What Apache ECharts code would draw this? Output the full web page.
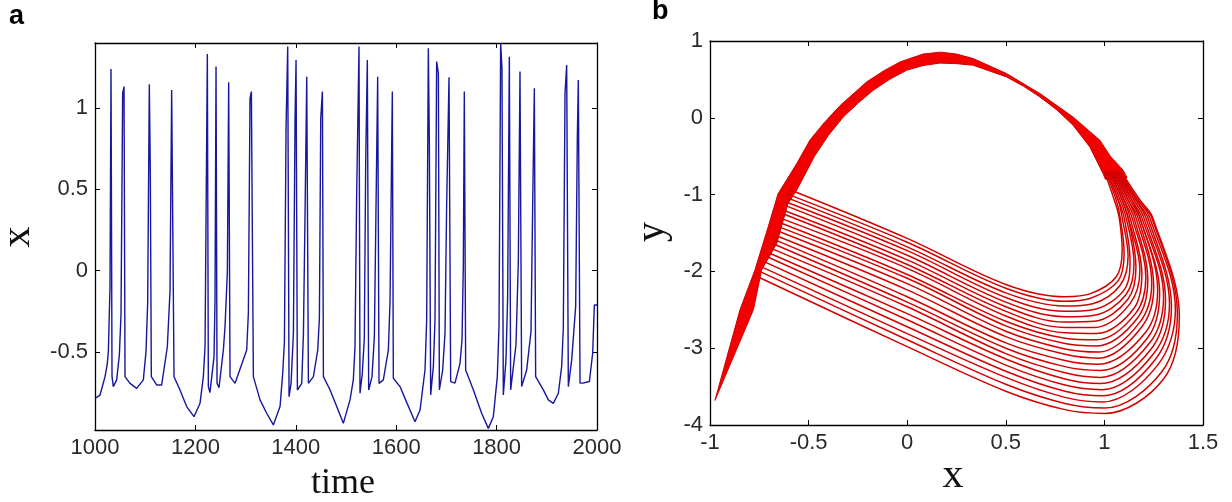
<!DOCTYPE html>
<html>
<head>
<meta charset="utf-8">
<script src="https://cdn.jsdelivr.net/npm/echarts@6/dist/echarts.min.js"></script>
<style>
  html, body { margin: 0; padding: 0; background: #fff; }
  #main { width: 1232px; height: 502px; }
</style>
</head>
<body>
<div id="main"></div>
<script>
// panel a: membrane potential x over time (one row per burst)
var tsTime = [
  1000, 1010, 1020, 1024.6, 1026.6, 1029.9, 1031.9, 1033.9, 1036.5, 1043.2, 1048.5, 1051.8, 1055.1, 1057.8, 1059.8,
  1069.7, 1083, 1096.3, 1101.6, 1104.9, 1108.2, 1110.2, 1112.2, 1122.8, 1132.8, 1144.1, 1149.4, 1152.7, 1157.4,
  1169.3, 1182.6, 1197.2, 1209.2, 1215.8, 1219.2, 1221.2, 1223.8, 1225.8, 1229, 1237.1, 1239.1, 1241.1, 1243.1,
  1247, 1255.7, 1259, 1263.7, 1266.3, 1269, 1279, 1302.2, 1305.5, 1308.8, 1311.5, 1315.5,
  1328.7, 1342, 1355.3, 1368.6, 1373.9, 1377.3, 1380.6, 1383.9, 1386.6, 1390.6, 1395.2, 1398.5, 1400.5, 1403.2,
  1411.8, 1415.2, 1418.5, 1421.8, 1425.1, 1435.1, 1443.7, 1447, 1449.7, 1453, 1455,
  1468.3, 1481.5, 1494.7, 1508, 1514.6, 1517.9, 1521.2, 1525.9, 1527.9, 1532.5, 1536.5, 1539.2, 1542.5, 1545.2,
  1551.8, 1556.5, 1559.8, 1563.1, 1565.8, 1574.4, 1584.4, 1587.7, 1591, 1592.3, 1594.3,
  1607.6, 1620.9, 1637.5, 1647.5, 1657.4, 1660.7, 1664, 1666, 1668.7, 1674, 1677.3, 1680.6, 1684, 1686,
  1692.6, 1697.2, 1700.5, 1705.2, 1708.5, 1717.1, 1727.1, 1731.1, 1733.7, 1735.7, 1738.4,
  1753.6, 1770.2, 1783.5, 1793.5, 1801.4, 1804.8, 1808.1, 1810.7, 1813.4, 1818.7, 1822, 1825.4, 1828,
  1838.6, 1843.3, 1846.6, 1849.9, 1859.9, 1868.5, 1871.8, 1875.2, 1877.8,
  1893.1, 1903.1, 1913, 1923, 1929.6, 1932.9, 1936.3, 1939.6, 1942.9, 1949.6, 1957.5, 1960.8, 1962.8, 1966.2,
  1971.5, 1984.8, 1991.4, 1994.7, 2000
];
var tsX = [
  -0.785, -0.765, -0.652, -0.57, -0.498, -0.098, 1.24, -0.652, -0.713, -0.672, -0.519, -0.272, 1.091, 1.132, -0.652,
  -0.693, -0.724, -0.672, -0.498, -0.2, 1.146, 0.599, -0.652, -0.703, -0.703, -0.468, -0.129, 1.111, -0.652,
  -0.734, -0.836, -0.898, -0.816, -0.652, -0.468, 0.322, 1.333, -0.713, -0.75, -0.529, -0.18, 1.255, -0.693,
  -0.72, -0.488, -0.345, -0.006, 1.158, -0.652, -0.693, -0.488, -0.262, 1.06, 1.101, -0.652,
  -0.795, -0.877, -0.949, -0.836, -0.632, -0.437, 0.886, 1.378, -0.775, -0.693, -0.386, 0.927, 1.296, -0.734,
  -0.693, -0.386, 0.373, 1.193, -0.693, -0.652, -0.488, -0.293, 0.938, 1.101, -0.652,
  -0.734, -0.836, -0.939, -0.795, -0.672, -0.468, 0.455, 1.378, -0.754, -0.632, -0.416, 0.66, 1.296, -0.734,
  -0.652, -0.406, 0.394, 1.193, -0.693, -0.672, -0.488, -0.19, 0.752, 1.101, -0.662,
  -0.713, -0.81, -0.929, -0.857, -0.611, -0.303, 1.368, 0.794, -0.764, -0.59, -0.303, 1.286, 1.213, -0.733,
  -0.611, -0.385, 0.404, 1.189, -0.682, -0.692, -0.57, -0.426, 0.025, 1.101, -0.611,
  -0.733, -0.877, -0.97, -0.898, -0.652, -0.344, 1.398, 1.245, -0.764, -0.549, -0.16, 1.316, -0.733,
  -0.457, 0.056, 1.224, -0.713, -0.611, -0.375, 0.384, 1.122, -0.652,
  -0.733, -0.795, -0.816, -0.754, -0.59, -0.354, 1.09, 1.265, -0.713, -0.549, -0.22, 0.814, 1.173, -0.692,
  -0.692, -0.682, -0.508, -0.211, -0.211
];
var xTicks = [-0.5, 0, 0.5, 1];

// panel b: the 21 nested loops of the lower fan (top loop first)
var stationX = [0, 0.5, 0.8];
var upperY = -1.3;
var endY = -1.07;
var topY = -0.7;
var loopStartX = [-0.60, -0.61, -0.61, -0.62, -0.62, -0.63, -0.63, -0.64, -0.65, -0.65, -0.66, -0.67, -0.67, -0.68, -0.69, -0.70, -0.71, -0.72, -0.73, -0.74, -0.75];
var loopStartY = [-0.93, -0.99, -1.04, -1.09, -1.14, -1.20, -1.25, -1.31, -1.36, -1.42, -1.47, -1.53, -1.59, -1.64, -1.70, -1.76, -1.81, -1.88, -1.95, -2.01, -2.08];
var loopY0 = [-1.57, -1.62, -1.68, -1.73, -1.79, -1.85, -1.91, -1.96, -2.04, -2.09, -2.16, -2.24, -2.33, -2.40, -2.46, -2.55, -2.63, -2.72, -2.81, -2.89, -2.98];
var loopY05 = [-2.17, -2.22, -2.28, -2.34, -2.40, -2.46, -2.52, -2.58, -2.65, -2.71, -2.78, -2.85, -2.93, -3.00, -3.07, -3.14, -3.22, -3.30, -3.38, -3.47, -3.56];
var loopY08 = [-2.33, -2.39, -2.45, -2.52, -2.59, -2.66, -2.73, -2.80, -2.87, -2.94, -3.01, -3.08, -3.16, -3.24, -3.32, -3.40, -3.48, -3.56, -3.64, -3.72, -3.80];
var loopBottomX = [0.93, 0.93, 0.94, 0.94, 0.95, 0.95, 0.95, 0.96, 0.96, 0.96, 0.97, 0.97, 0.97, 0.98, 0.98, 0.98, 0.99, 0.99, 0.99, 1.00, 1.00];
var loopBottomY = [-2.29, -2.35, -2.42, -2.50, -2.57, -2.65, -2.73, -2.81, -2.89, -2.97, -3.05, -3.13, -3.21, -3.29, -3.38, -3.46, -3.54, -3.62, -3.70, -3.78, -3.85];
var loopCornerX = [1.06, 1.07, 1.08, 1.10, 1.11, 1.12, 1.13, 1.15, 1.16, 1.17, 1.18, 1.19, 1.21, 1.22, 1.23, 1.24, 1.25, 1.26, 1.27, 1.29, 1.30];
var loopCornerY = [-2.07, -2.12, -2.18, -2.24, -2.30, -2.36, -2.42, -2.48, -2.54, -2.60, -2.66, -2.72, -2.79, -2.86, -2.93, -3.00, -3.07, -3.14, -3.22, -3.31, -3.40];
var loopRightX = [1.09, 1.10, 1.12, 1.13, 1.15, 1.16, 1.18, 1.19, 1.21, 1.22, 1.24, 1.25, 1.27, 1.28, 1.30, 1.31, 1.33, 1.34, 1.36, 1.37, 1.38];
var loopRightY = [-1.72, -1.76, -1.80, -1.85, -1.89, -1.94, -1.98, -2.02, -2.07, -2.11, -2.15, -2.20, -2.24, -2.28, -2.33, -2.37, -2.42, -2.46, -2.50, -2.55, -2.59];
var loopUpperX = [1.075, 1.08, 1.09, 1.10, 1.11, 1.12, 1.12, 1.13, 1.14, 1.15, 1.16, 1.17, 1.18, 1.18, 1.19, 1.20, 1.21, 1.22, 1.23, 1.24, 1.245];
var loopEndX = [1.05, 1.06, 1.07, 1.07, 1.08, 1.09, 1.09, 1.10, 1.10, 1.11, 1.12, 1.12, 1.13, 1.14, 1.14, 1.15, 1.16, 1.16, 1.17, 1.17, 1.18];
var loopTopX = [1.0, 1.005, 1.01, 1.015, 1.02, 1.025, 1.03, 1.035, 1.04, 1.045, 1.05, 1.055, 1.06, 1.062, 1.065, 1.068, 1.07, 1.074, 1.078, 1.08, 1.085];

// the dense upper arc + left branch, outer edge (right side -> top -> tip) and inner edge (tip -> right side)
var bandOuterX = [1.115, 1.095, 1.03, 0.977, 0.841, 0.673, 0.504, 0.335, 0.25, 0.17, 0.08, -0.037, -0.12, -0.206, -0.27, -0.34, -0.42, -0.493, -0.56, -0.655, -0.705, -0.772, -0.848, -0.975];
var bandOuterY = [-0.78, -0.682, -0.50, -0.292, 0.011, 0.316, 0.576, 0.771, 0.83, 0.855, 0.83, 0.727, 0.61, 0.467, 0.32, 0.16, -0.06, -0.29, -0.595, -0.99, -1.42, -1.98, -2.50, -3.68];
var bandInnerX = [-0.78, -0.738, -0.662, -0.605, -0.56, -0.47, -0.40, -0.324, -0.25, -0.172, -0.09, -0.003, 0.08, 0.166, 0.25, 0.335, 0.504, 0.59, 0.673, 0.76, 0.841, 0.926, 0.993, 1.005];
var bandInnerY = [-2.50, -1.98, -1.64, -1.12, -0.94, -0.50, -0.23, 0.011, 0.19, 0.359, 0.50, 0.619, 0.68, 0.712, 0.705, 0.684, 0.532, 0.41, 0.271, 0.10, -0.097, -0.379, -0.725, -0.80];

var chart = echarts.init(document.getElementById('main'), null, { renderer: 'canvas' });

var labelFont = { fontFamily: 'Liberation Sans', fontSize: 22, color: '#2a2a2a' };
var nameFont = 'Liberation Serif';
var boxLine = { show: true, onZero: false, lineStyle: { color: '#000', width: 1.3 } };

function boxAxis(grid, min, max, pos, opts) {
  var ax = {
    type: 'value', gridIndex: grid, min: min, max: max, position: pos,
    axisLine: boxLine,
    splitLine: { show: false },
    axisTick: { show: true, inside: true, length: 5, lineStyle: { color: '#000', width: 1 } },
    axisLabel: { show: false }
  };
  return Object.assign(ax, opts || {});
}

var loopSeries = loopStartX.map(function (sx, i) {
  return {
    type: 'line', xAxisIndex: 2, yAxisIndex: 2, showSymbol: false, smooth: 0.35,
    lineStyle: { color: '#d40000', width: 1.5 },
    data: [
      [sx, loopStartY[i]],
      [stationX[0], loopY0[i]],
      [stationX[1], loopY05[i]],
      [stationX[2], loopY08[i]],
      [loopBottomX[i], loopBottomY[i]],
      [loopCornerX[i], loopCornerY[i]],
      [loopRightX[i], loopRightY[i]],
      [loopUpperX[i], upperY],
      [loopEndX[i], endY],
      [loopTopX[i], topY]
    ]
  };
});

var bandX = bandOuterX.concat(bandInnerX);
var bandY = bandOuterY.concat(bandInnerY);

chart.setOption({
  animation: false,
  grid: [
    { left: 95, top: 43, width: 502, height: 387 },
    { left: 710, top: 41, width: 493, height: 384 }
  ],
  xAxis: [
    boxAxis(0, 1000, 2000, 'bottom', {
      interval: 200,
      axisLabel: Object.assign({ show: true, margin: 7, formatter: function (v) { return String(v); } }, labelFont)
    }),
    boxAxis(0, 1000, 2000, 'top', { interval: 200 }),
    boxAxis(1, -1, 1.5, 'bottom', {
      interval: 0.5,
      axisLabel: Object.assign({ show: true, margin: 7 }, labelFont)
    }),
    boxAxis(1, -1, 1.5, 'top', { interval: 0.5 })
  ],
  yAxis: [
    boxAxis(0, -0.98, 1.4, 'left', {
      axisTick: { show: true, inside: true, length: 5, customValues: xTicks, lineStyle: { color: '#000' } },
      axisLabel: Object.assign({ show: true, margin: 7, customValues: xTicks }, labelFont)
    }),
    boxAxis(0, -0.98, 1.4, 'right', {
      axisTick: { show: true, inside: true, length: 5, customValues: xTicks, lineStyle: { color: '#000' } }
    }),
    boxAxis(1, -4, 1, 'left', {
      interval: 1,
      axisLabel: Object.assign({ show: true, margin: 7 }, labelFont)
    }),
    boxAxis(1, -4, 1, 'right', { interval: 1 })
  ],
  graphic: [
    { type: 'text', x: 9, y: 17, style: { text: 'a', font: 'bold 27px "Liberation Sans"', fill: '#000', verticalAlign: 'middle' } },
    { type: 'text', x: 652, y: 12, style: { text: 'b', font: 'bold 27px "Liberation Sans"', fill: '#000', verticalAlign: 'middle' } },
    { type: 'text', x: 343, y: 484, style: { text: 'time', font: '36px "' + nameFont + '"', fill: '#111', align: 'center', verticalAlign: 'middle' } },
    { type: 'text', x: 18, y: 237, rotation: Math.PI / 2, style: { text: 'x', font: '42px "' + nameFont + '"', fill: '#111', align: 'center', verticalAlign: 'middle' } },
    { type: 'text', x: 953, y: 476, style: { text: 'x', font: '42px "' + nameFont + '"', fill: '#111', align: 'center', verticalAlign: 'middle' } },
    { type: 'text', x: 652, y: 232, rotation: Math.PI / 2, style: { text: 'y', font: '40px "' + nameFont + '"', fill: '#111', align: 'center', verticalAlign: 'middle' } }
  ],
  series: [
    {
      type: 'line', xAxisIndex: 0, yAxisIndex: 0, showSymbol: false,
      lineStyle: { color: '#16169e', width: 1.4 },
      data: tsTime.map(function (t, i) { return [t, tsX[i]]; })
    }
  ].concat(loopSeries).concat([
    {
      type: 'custom', xAxisIndex: 2, yAxisIndex: 2, z: 3,
      data: [[bandOuterX[0], bandOuterY[0]]],
      renderItem: function (params, api) {
        var pts = bandX.map(function (x, k) { return api.coord([x, bandY[k]]); });
        return {
          type: 'polygon',
          shape: { points: pts },
          style: { fill: '#f20000', stroke: '#d00000', lineWidth: 1 }
        };
      }
    }
  ])
});
</script>
</body>
</html>
